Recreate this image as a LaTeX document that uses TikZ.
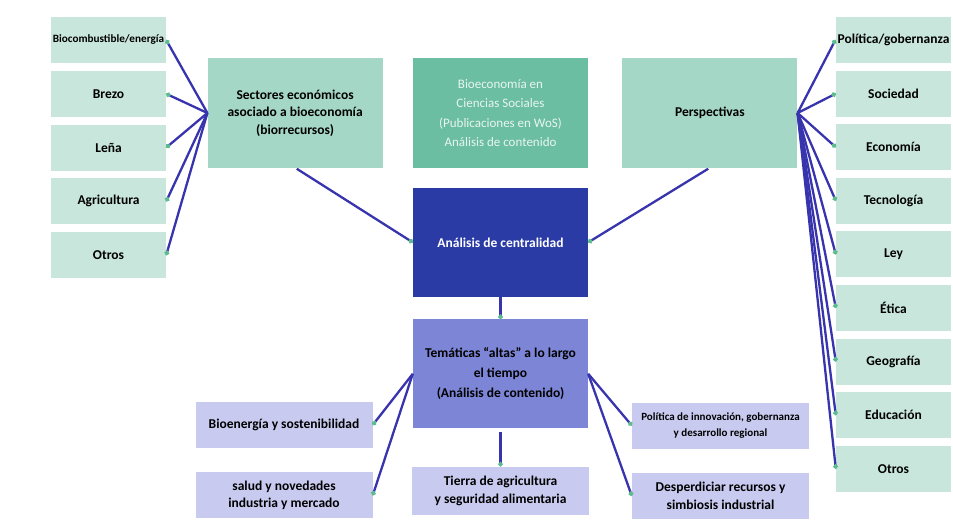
\documentclass[tikz,border=0pt]{standalone}
\usepackage{fontspec}
\setmainfont{Carlito}
\usetikzlibrary{positioning,arrows.meta}
\definecolor{paleteal}{HTML}{C8E6DB}
\definecolor{midteal}{HTML}{A5D7C6}
\definecolor{darkteal}{HTML}{6BBEA1}
\definecolor{deepblue}{HTML}{2B3BA6}
\definecolor{midblue}{HTML}{7D86D6}
\definecolor{lavender}{HTML}{C8CBEF}
\definecolor{linkblue}{HTML}{3834AE}
\definecolor{dotgreen}{HTML}{5DBB8F}
\begin{document}
\begin{tikzpicture}[x=1pt, y=-1pt,
    font=\fontsize{13.5}{17.5}\selectfont\bfseries,
    box/.style={rectangle, align=center, inner sep=2pt},
    colbox/.style={box, fill=paleteal, minimum width=115pt, minimum height=46pt},
    bigbox/.style={box, minimum width=175pt, minimum height=109pt},
    lowbox/.style={box, fill=lavender, minimum width=177pt, minimum height=46pt},
    link/.style={draw=linkblue, line width=2.3pt, -{Circle[length=4.5pt,color=dotgreen]}}]
      \useasboundingbox (0,0) rectangle (953,532);

      \node[bigbox, fill=darkteal, text=white!85!darkteal, font=\fontsize{13}{19.5}\selectfont] at (500.5,113) (bioec) {Bioeconomía en\\Ciencias Sociales\\(Publicaciones en WoS)\\Análisis de contenido};
      \node[bigbox, fill=midteal, left=30pt of bioec] (sect) {Sectores económicos\\asociado a bioeconomía\\(biorrecursos)};
      \node[bigbox, fill=midteal, right=34pt of bioec] (persp) {Perspectivas};
      \node[bigbox, fill=deepblue, text=white, below=20pt of bioec] (centr) {Análisis de centralidad};
      \node[bigbox, fill=midblue, below=22pt of centr, font=\fontsize{13.5}{20}\selectfont\bfseries] (tem) {Temáticas “altas” a lo largo\\el tiempo\\(Análisis de contenido)};

      \node[colbox, inner xsep=0pt, font=\fontsize{11.2}{13}\selectfont\bfseries] at (108.5,40) (biocomb) {Biocombustible/energía};
      \node[colbox, below=7.4pt of biocomb] (brezo) {Brezo};
      \node[colbox, below=7.4pt of brezo] (lena) {Leña};
      \node[colbox, below=7.4pt of lena] (agri) {Agricultura};
      \node[colbox, below=7.4pt of agri] (otrosl) {Otros};

      \node[colbox] at (893.5,40) (polit) {Política/gobernanza};
      \node[colbox, below=7.2pt of polit] (soc) {Sociedad};
      \node[colbox, below=7.2pt of soc] (econ) {Economía};
      \node[colbox, below=7.2pt of econ] (tecno) {Tecnología};
      \node[colbox, below=7.2pt of tecno] (ley) {Ley};
      \node[colbox, below=7.2pt of ley] (etica) {Ética};
      \node[colbox, below=7.2pt of etica] (geo) {Geografía};
      \node[colbox, below=7.2pt of geo] (educ) {Educación};
      \node[colbox, below=7.2pt of educ] (otrosr) {Otros};

      \node[lowbox] at (284,425) (bioen) {Bioenergía y sostenibilidad};
      \node[lowbox, below=24pt of bioen] (salud) {salud y novedades\\industria y mercado};
      \node[lowbox, minimum height=48pt, below=38pt of tem] (tierra) {Tierra de agricultura\\y seguridad alimentaria};
      \node[lowbox, font=\fontsize{11}{16}\selectfont\bfseries] at (720.5,425.5) (innov) {Política de innovación, gobernanza\\y desarrollo regional};
      \node[lowbox, below=24pt of innov] (desp) {Desperdiciar recursos y\\simbiosis industrial};

      \draw[link] (sect.west) -- (biocomb.east);
      \draw[link] (sect.west) -- (brezo.east);
      \draw[link] (sect.west) -- (lena.east);
      \draw[link] (sect.west) -- (agri.east);
      \draw[link] (sect.west) -- (otrosl.east);

      \draw[link] (persp.east) -- (polit.west);
      \draw[link] (persp.east) -- (soc.west);
      \draw[link] (persp.east) -- (econ.west);
      \draw[link] (persp.east) -- (tecno.west);
      \draw[link] (persp.east) -- (ley.west);
      \draw[link] (persp.east) -- (etica.west);
      \draw[link] (persp.east) -- (geo.west);
      \draw[link] (persp.east) -- (educ.west);
      \draw[link] (persp.east) -- (otrosr.west);

      \draw[link, shorten <=2pt] (sect.south) -- (centr.west);
      \draw[link, shorten <=2pt] (persp.south) -- (centr.east);
      \draw[link] (centr.south) -- (tem.north);
      \draw[link, shorten <=3pt] (tem.south) -- (tierra.north);

      \draw[link] (tem.west) -- (bioen.east);
      \draw[link] (tem.west) -- (salud.east);
      \draw[link] (tem.east) -- (innov.west);
      \draw[link] (tem.east) -- (desp.west);
    \end{tikzpicture}
\end{document}
